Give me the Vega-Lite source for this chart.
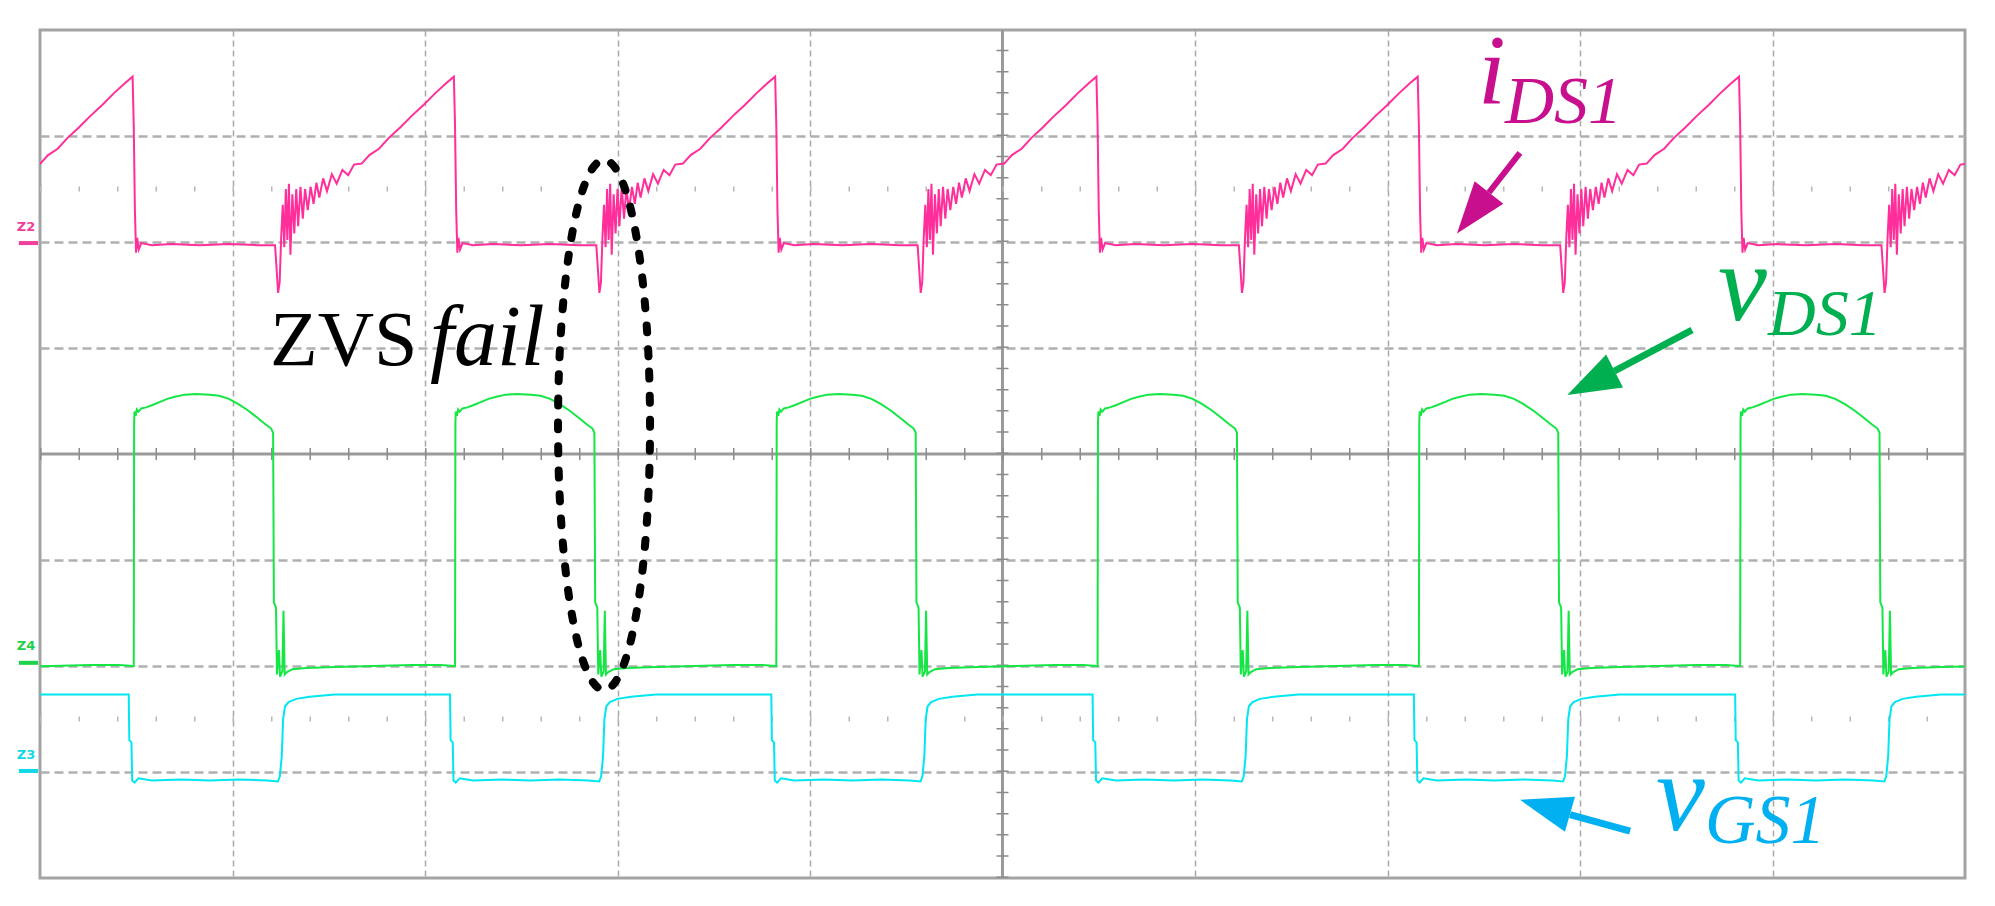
{
"$schema": "https://vega.github.io/schema/vega-lite/v6.json",
"width": 1925, "height": 848,
"autosize": {"type": "none"},
"padding": {"left": 40, "top": 30, "right": 30, "bottom": 28},
"background": "white",
"config": {"view": {"stroke": "#a3a3a3", "strokeWidth": 3}},
"datasets": {
"ids": [
{"x":-0.038,"y":2.73},{"x":0.002,"y":2.74},{"x":0.042,"y":2.82},{"x":0.092,"y":2.88},{"x":0.142,"y":2.98},{"x":0.202,"y":3.08},{"x":0.262,"y":3.19},{"x":0.322,"y":3.29},{"x":0.382,"y":3.40},{"x":0.442,"y":3.50},
{"x":0.481,"y":3.56},{"x":0.487,"y":3.10},{"x":0.493,"y":2.30},{"x":0.499,"y":1.90},{"x":0.505,"y":2.04},{"x":0.513,"y":1.93},{"x":0.526,"y":1.99},{"x":0.581,"y":1.97},{"x":0.681,"y":1.98},{"x":0.831,"y":1.97},{"x":0.981,"y":1.98},{"x":1.131,"y":1.97},{"x":1.221,"y":1.97},{"x":1.229,"y":1.75},{"x":1.237,"y":1.52},{"x":1.245,"y":1.62},{"x":1.253,"y":2.05},{"x":1.261,"y":2.35},{"x":1.269,"y":1.95},{"x":1.277,"y":2.50},{"x":1.285,"y":2.02},{"x":1.293,"y":2.55},{"x":1.301,"y":1.88},{"x":1.311,"y":2.45},{"x":1.321,"y":2.08},{"x":1.331,"y":2.50},{"x":1.341,"y":2.15},{"x":1.353,"y":2.52},{"x":1.365,"y":2.22},{"x":1.377,"y":2.50},{"x":1.391,"y":2.30},{"x":1.406,"y":2.52},{"x":1.421,"y":2.36},{"x":1.436,"y":2.56},{"x":1.451,"y":2.42},{"x":1.471,"y":2.60},{"x":1.491,"y":2.48},{"x":1.516,"y":2.64},{"x":1.541,"y":2.55},{"x":1.571,"y":2.68},{"x":1.601,"y":2.63},{"x":1.631,"y":2.73},{"x":1.671,"y":2.74},{"x":1.711,"y":2.82},{"x":1.761,"y":2.88},{"x":1.811,"y":2.98},{"x":1.871,"y":3.08},{"x":1.931,"y":3.19},{"x":1.991,"y":3.29},{"x":2.051,"y":3.40},{"x":2.111,"y":3.50},
{"x":2.150,"y":3.56},{"x":2.156,"y":3.10},{"x":2.162,"y":2.30},{"x":2.168,"y":1.90},{"x":2.174,"y":2.04},{"x":2.182,"y":1.93},{"x":2.195,"y":1.99},{"x":2.250,"y":1.97},{"x":2.350,"y":1.98},{"x":2.500,"y":1.97},{"x":2.650,"y":1.98},{"x":2.800,"y":1.97},{"x":2.890,"y":1.97},{"x":2.898,"y":1.75},{"x":2.906,"y":1.52},{"x":2.914,"y":1.62},{"x":2.922,"y":2.05},{"x":2.930,"y":2.35},{"x":2.938,"y":1.95},{"x":2.946,"y":2.50},{"x":2.954,"y":2.02},{"x":2.962,"y":2.55},{"x":2.970,"y":1.88},{"x":2.980,"y":2.45},{"x":2.990,"y":2.08},{"x":3.000,"y":2.50},{"x":3.010,"y":2.15},{"x":3.022,"y":2.52},{"x":3.034,"y":2.22},{"x":3.046,"y":2.50},{"x":3.060,"y":2.30},{"x":3.075,"y":2.52},{"x":3.090,"y":2.36},{"x":3.105,"y":2.56},{"x":3.120,"y":2.42},{"x":3.140,"y":2.60},{"x":3.160,"y":2.48},{"x":3.185,"y":2.64},{"x":3.210,"y":2.55},{"x":3.240,"y":2.68},{"x":3.270,"y":2.63},{"x":3.300,"y":2.73},{"x":3.340,"y":2.74},{"x":3.380,"y":2.82},{"x":3.430,"y":2.88},{"x":3.480,"y":2.98},{"x":3.540,"y":3.08},{"x":3.600,"y":3.19},{"x":3.660,"y":3.29},{"x":3.720,"y":3.40},{"x":3.780,"y":3.50},
{"x":3.819,"y":3.56},{"x":3.825,"y":3.10},{"x":3.831,"y":2.30},{"x":3.837,"y":1.90},{"x":3.843,"y":2.04},{"x":3.851,"y":1.93},{"x":3.864,"y":1.99},{"x":3.919,"y":1.97},{"x":4.019,"y":1.98},{"x":4.169,"y":1.97},{"x":4.319,"y":1.98},{"x":4.469,"y":1.97},{"x":4.559,"y":1.97},{"x":4.567,"y":1.75},{"x":4.575,"y":1.52},{"x":4.583,"y":1.62},{"x":4.591,"y":2.05},{"x":4.599,"y":2.35},{"x":4.607,"y":1.95},{"x":4.615,"y":2.50},{"x":4.623,"y":2.02},{"x":4.631,"y":2.55},{"x":4.639,"y":1.88},{"x":4.649,"y":2.45},{"x":4.659,"y":2.08},{"x":4.669,"y":2.50},{"x":4.679,"y":2.15},{"x":4.691,"y":2.52},{"x":4.703,"y":2.22},{"x":4.715,"y":2.50},{"x":4.729,"y":2.30},{"x":4.744,"y":2.52},{"x":4.759,"y":2.36},{"x":4.774,"y":2.56},{"x":4.789,"y":2.42},{"x":4.809,"y":2.60},{"x":4.829,"y":2.48},{"x":4.854,"y":2.64},{"x":4.879,"y":2.55},{"x":4.909,"y":2.68},{"x":4.939,"y":2.63},{"x":4.969,"y":2.73},{"x":5.009,"y":2.74},{"x":5.049,"y":2.82},{"x":5.099,"y":2.88},{"x":5.149,"y":2.98},{"x":5.209,"y":3.08},{"x":5.269,"y":3.19},{"x":5.329,"y":3.29},{"x":5.389,"y":3.40},{"x":5.449,"y":3.50},
{"x":5.488,"y":3.56},{"x":5.494,"y":3.10},{"x":5.500,"y":2.30},{"x":5.506,"y":1.90},{"x":5.512,"y":2.04},{"x":5.520,"y":1.93},{"x":5.533,"y":1.99},{"x":5.588,"y":1.97},{"x":5.688,"y":1.98},{"x":5.838,"y":1.97},{"x":5.988,"y":1.98},{"x":6.138,"y":1.97},{"x":6.228,"y":1.97},{"x":6.236,"y":1.75},{"x":6.244,"y":1.52},{"x":6.252,"y":1.62},{"x":6.260,"y":2.05},{"x":6.268,"y":2.35},{"x":6.276,"y":1.95},{"x":6.284,"y":2.50},{"x":6.292,"y":2.02},{"x":6.300,"y":2.55},{"x":6.308,"y":1.88},{"x":6.318,"y":2.45},{"x":6.328,"y":2.08},{"x":6.338,"y":2.50},{"x":6.348,"y":2.15},{"x":6.360,"y":2.52},{"x":6.372,"y":2.22},{"x":6.384,"y":2.50},{"x":6.398,"y":2.30},{"x":6.413,"y":2.52},{"x":6.428,"y":2.36},{"x":6.443,"y":2.56},{"x":6.458,"y":2.42},{"x":6.478,"y":2.60},{"x":6.498,"y":2.48},{"x":6.523,"y":2.64},{"x":6.548,"y":2.55},{"x":6.578,"y":2.68},{"x":6.608,"y":2.63},{"x":6.638,"y":2.73},{"x":6.678,"y":2.74},{"x":6.718,"y":2.82},{"x":6.768,"y":2.88},{"x":6.818,"y":2.98},{"x":6.878,"y":3.08},{"x":6.938,"y":3.19},{"x":6.998,"y":3.29},{"x":7.058,"y":3.40},{"x":7.118,"y":3.50},
{"x":7.157,"y":3.56},{"x":7.163,"y":3.10},{"x":7.169,"y":2.30},{"x":7.175,"y":1.90},{"x":7.181,"y":2.04},{"x":7.189,"y":1.93},{"x":7.202,"y":1.99},{"x":7.257,"y":1.97},{"x":7.357,"y":1.98},{"x":7.507,"y":1.97},{"x":7.657,"y":1.98},{"x":7.807,"y":1.97},{"x":7.897,"y":1.97},{"x":7.905,"y":1.75},{"x":7.913,"y":1.52},{"x":7.921,"y":1.62},{"x":7.929,"y":2.05},{"x":7.937,"y":2.35},{"x":7.945,"y":1.95},{"x":7.953,"y":2.50},{"x":7.961,"y":2.02},{"x":7.969,"y":2.55},{"x":7.977,"y":1.88},{"x":7.987,"y":2.45},{"x":7.997,"y":2.08},{"x":8.007,"y":2.50},{"x":8.017,"y":2.15},{"x":8.029,"y":2.52},{"x":8.041,"y":2.22},{"x":8.053,"y":2.50},{"x":8.067,"y":2.30},{"x":8.082,"y":2.52},{"x":8.097,"y":2.36},{"x":8.112,"y":2.56},{"x":8.127,"y":2.42},{"x":8.147,"y":2.60},{"x":8.167,"y":2.48},{"x":8.192,"y":2.64},{"x":8.217,"y":2.55},{"x":8.247,"y":2.68},{"x":8.277,"y":2.63},{"x":8.307,"y":2.73},{"x":8.347,"y":2.74},{"x":8.387,"y":2.82},{"x":8.437,"y":2.88},{"x":8.487,"y":2.98},{"x":8.547,"y":3.08},{"x":8.607,"y":3.19},{"x":8.667,"y":3.29},{"x":8.727,"y":3.40},{"x":8.787,"y":3.50},
{"x":8.826,"y":3.56},{"x":8.832,"y":3.10},{"x":8.838,"y":2.30},{"x":8.844,"y":1.90},{"x":8.850,"y":2.04},{"x":8.858,"y":1.93},{"x":8.871,"y":1.99},{"x":8.926,"y":1.97},{"x":9.026,"y":1.98},{"x":9.176,"y":1.97},{"x":9.326,"y":1.98},{"x":9.476,"y":1.97},{"x":9.566,"y":1.97},{"x":9.574,"y":1.75},{"x":9.582,"y":1.52},{"x":9.590,"y":1.62},{"x":9.598,"y":2.05},{"x":9.606,"y":2.35},{"x":9.614,"y":1.95},{"x":9.622,"y":2.50},{"x":9.630,"y":2.02},{"x":9.638,"y":2.55},{"x":9.646,"y":1.88},{"x":9.656,"y":2.45},{"x":9.666,"y":2.08},{"x":9.676,"y":2.50},{"x":9.686,"y":2.15},{"x":9.698,"y":2.52},{"x":9.710,"y":2.22},{"x":9.722,"y":2.50},{"x":9.736,"y":2.30},{"x":9.751,"y":2.52},{"x":9.766,"y":2.36},{"x":9.781,"y":2.56},{"x":9.796,"y":2.42},{"x":9.816,"y":2.60},{"x":9.836,"y":2.48},{"x":9.861,"y":2.64},{"x":9.886,"y":2.55},{"x":9.916,"y":2.68},{"x":9.946,"y":2.63},{"x":9.976,"y":2.73},{"x":10.016,"y":2.74}
],
"vds": [
{"x":-0.138,"y":-2.01},{"x":0.062,"y":-2.00},{"x":0.262,"y":-1.99},{"x":0.412,"y":-1.99},
{"x":0.481,"y":-2.00},{"x":0.487,"y":-2.00},{"x":0.489,"y":0.30},{"x":0.491,"y":0.40},{"x":0.497,"y":0.36},{"x":0.503,"y":0.42},{"x":0.511,"y":0.40},{"x":0.526,"y":0.43},{"x":0.551,"y":0.44},{"x":0.581,"y":0.46},{"x":0.621,"y":0.49},{"x":0.661,"y":0.52},{"x":0.701,"y":0.54},{"x":0.751,"y":0.56},{"x":0.811,"y":0.565},{"x":0.881,"y":0.56},{"x":0.931,"y":0.55},{"x":0.981,"y":0.52},{"x":1.031,"y":0.47},{"x":1.081,"y":0.41},{"x":1.131,"y":0.34},{"x":1.171,"y":0.28},{"x":1.201,"y":0.24},{"x":1.211,"y":0.20},{"x":1.215,"y":-1.40},{"x":1.226,"y":-1.45},{"x":1.231,"y":-2.08},{"x":1.241,"y":-1.85},{"x":1.247,"y":-2.10},{"x":1.259,"y":-2.05},{"x":1.265,"y":-1.48},{"x":1.271,"y":-2.08},{"x":1.281,"y":-2.06},{"x":1.311,"y":-2.03},{"x":1.381,"y":-2.02},{"x":1.531,"y":-2.01},{"x":1.731,"y":-2.00},{"x":1.931,"y":-1.99},{"x":2.081,"y":-1.99},
{"x":2.150,"y":-2.00},{"x":2.156,"y":-2.00},{"x":2.158,"y":0.30},{"x":2.160,"y":0.40},{"x":2.166,"y":0.36},{"x":2.172,"y":0.42},{"x":2.180,"y":0.40},{"x":2.195,"y":0.43},{"x":2.220,"y":0.44},{"x":2.250,"y":0.46},{"x":2.290,"y":0.49},{"x":2.330,"y":0.52},{"x":2.370,"y":0.54},{"x":2.420,"y":0.56},{"x":2.480,"y":0.565},{"x":2.550,"y":0.56},{"x":2.600,"y":0.55},{"x":2.650,"y":0.52},{"x":2.700,"y":0.47},{"x":2.750,"y":0.41},{"x":2.800,"y":0.34},{"x":2.840,"y":0.28},{"x":2.870,"y":0.24},{"x":2.880,"y":0.20},{"x":2.884,"y":-1.40},{"x":2.895,"y":-1.45},{"x":2.900,"y":-2.08},{"x":2.910,"y":-1.85},{"x":2.916,"y":-2.10},{"x":2.928,"y":-2.05},{"x":2.934,"y":-1.48},{"x":2.940,"y":-2.08},{"x":2.950,"y":-2.06},{"x":2.980,"y":-2.03},{"x":3.050,"y":-2.02},{"x":3.200,"y":-2.01},{"x":3.400,"y":-2.00},{"x":3.600,"y":-1.99},{"x":3.750,"y":-1.99},
{"x":3.819,"y":-2.00},{"x":3.825,"y":-2.00},{"x":3.827,"y":0.30},{"x":3.829,"y":0.40},{"x":3.835,"y":0.36},{"x":3.841,"y":0.42},{"x":3.849,"y":0.40},{"x":3.864,"y":0.43},{"x":3.889,"y":0.44},{"x":3.919,"y":0.46},{"x":3.959,"y":0.49},{"x":3.999,"y":0.52},{"x":4.039,"y":0.54},{"x":4.089,"y":0.56},{"x":4.149,"y":0.565},{"x":4.219,"y":0.56},{"x":4.269,"y":0.55},{"x":4.319,"y":0.52},{"x":4.369,"y":0.47},{"x":4.419,"y":0.41},{"x":4.469,"y":0.34},{"x":4.509,"y":0.28},{"x":4.539,"y":0.24},{"x":4.549,"y":0.20},{"x":4.553,"y":-1.40},{"x":4.564,"y":-1.45},{"x":4.569,"y":-2.08},{"x":4.579,"y":-1.85},{"x":4.585,"y":-2.10},{"x":4.597,"y":-2.05},{"x":4.603,"y":-1.48},{"x":4.609,"y":-2.08},{"x":4.619,"y":-2.06},{"x":4.649,"y":-2.03},{"x":4.719,"y":-2.02},{"x":4.869,"y":-2.01},{"x":5.069,"y":-2.00},{"x":5.269,"y":-1.99},{"x":5.419,"y":-1.99},
{"x":5.488,"y":-2.00},{"x":5.494,"y":-2.00},{"x":5.496,"y":0.30},{"x":5.498,"y":0.40},{"x":5.504,"y":0.36},{"x":5.510,"y":0.42},{"x":5.518,"y":0.40},{"x":5.533,"y":0.43},{"x":5.558,"y":0.44},{"x":5.588,"y":0.46},{"x":5.628,"y":0.49},{"x":5.668,"y":0.52},{"x":5.708,"y":0.54},{"x":5.758,"y":0.56},{"x":5.818,"y":0.565},{"x":5.888,"y":0.56},{"x":5.938,"y":0.55},{"x":5.988,"y":0.52},{"x":6.038,"y":0.47},{"x":6.088,"y":0.41},{"x":6.138,"y":0.34},{"x":6.178,"y":0.28},{"x":6.208,"y":0.24},{"x":6.218,"y":0.20},{"x":6.222,"y":-1.40},{"x":6.233,"y":-1.45},{"x":6.238,"y":-2.08},{"x":6.248,"y":-1.85},{"x":6.254,"y":-2.10},{"x":6.266,"y":-2.05},{"x":6.272,"y":-1.48},{"x":6.278,"y":-2.08},{"x":6.288,"y":-2.06},{"x":6.318,"y":-2.03},{"x":6.388,"y":-2.02},{"x":6.538,"y":-2.01},{"x":6.738,"y":-2.00},{"x":6.938,"y":-1.99},{"x":7.088,"y":-1.99},
{"x":7.157,"y":-2.00},{"x":7.163,"y":-2.00},{"x":7.165,"y":0.30},{"x":7.167,"y":0.40},{"x":7.173,"y":0.36},{"x":7.179,"y":0.42},{"x":7.187,"y":0.40},{"x":7.202,"y":0.43},{"x":7.227,"y":0.44},{"x":7.257,"y":0.46},{"x":7.297,"y":0.49},{"x":7.337,"y":0.52},{"x":7.377,"y":0.54},{"x":7.427,"y":0.56},{"x":7.487,"y":0.565},{"x":7.557,"y":0.56},{"x":7.607,"y":0.55},{"x":7.657,"y":0.52},{"x":7.707,"y":0.47},{"x":7.757,"y":0.41},{"x":7.807,"y":0.34},{"x":7.847,"y":0.28},{"x":7.877,"y":0.24},{"x":7.887,"y":0.20},{"x":7.891,"y":-1.40},{"x":7.902,"y":-1.45},{"x":7.907,"y":-2.08},{"x":7.917,"y":-1.85},{"x":7.923,"y":-2.10},{"x":7.935,"y":-2.05},{"x":7.941,"y":-1.48},{"x":7.947,"y":-2.08},{"x":7.957,"y":-2.06},{"x":7.987,"y":-2.03},{"x":8.057,"y":-2.02},{"x":8.207,"y":-2.01},{"x":8.407,"y":-2.00},{"x":8.607,"y":-1.99},{"x":8.757,"y":-1.99},
{"x":8.826,"y":-2.00},{"x":8.832,"y":-2.00},{"x":8.834,"y":0.30},{"x":8.836,"y":0.40},{"x":8.842,"y":0.36},{"x":8.848,"y":0.42},{"x":8.856,"y":0.40},{"x":8.871,"y":0.43},{"x":8.896,"y":0.44},{"x":8.926,"y":0.46},{"x":8.966,"y":0.49},{"x":9.006,"y":0.52},{"x":9.046,"y":0.54},{"x":9.096,"y":0.56},{"x":9.156,"y":0.565},{"x":9.226,"y":0.56},{"x":9.276,"y":0.55},{"x":9.326,"y":0.52},{"x":9.376,"y":0.47},{"x":9.426,"y":0.41},{"x":9.476,"y":0.34},{"x":9.516,"y":0.28},{"x":9.546,"y":0.24},{"x":9.556,"y":0.20},{"x":9.560,"y":-1.40},{"x":9.571,"y":-1.45},{"x":9.576,"y":-2.08},{"x":9.586,"y":-1.85},{"x":9.592,"y":-2.10},{"x":9.604,"y":-2.05},{"x":9.610,"y":-1.48},{"x":9.616,"y":-2.08},{"x":9.626,"y":-2.06},{"x":9.656,"y":-2.03},{"x":9.726,"y":-2.02},{"x":9.876,"y":-2.01},{"x":10.076,"y":-2.00}
],
"vgs": [
{"x":-0.138,"y":-2.27},{"x":0.112,"y":-2.27},{"x":0.312,"y":-2.27},
{"x":0.461,"y":-2.27},{"x":0.464,"y":-2.70},{"x":0.475,"y":-2.72},{"x":0.479,"y":-3.08},{"x":0.491,"y":-3.10},{"x":0.511,"y":-3.06},{"x":0.581,"y":-3.08},{"x":0.731,"y":-3.07},{"x":0.881,"y":-3.08},{"x":1.031,"y":-3.07},{"x":1.181,"y":-3.08},{"x":1.236,"y":-3.09},{"x":1.246,"y":-3.04},{"x":1.256,"y":-2.85},{"x":1.263,"y":-2.50},{"x":1.273,"y":-2.38},{"x":1.291,"y":-2.34},{"x":1.331,"y":-2.31},{"x":1.401,"y":-2.29},{"x":1.531,"y":-2.27},{"x":1.781,"y":-2.27},{"x":1.981,"y":-2.27},
{"x":2.130,"y":-2.27},{"x":2.133,"y":-2.70},{"x":2.144,"y":-2.72},{"x":2.148,"y":-3.08},{"x":2.160,"y":-3.10},{"x":2.180,"y":-3.06},{"x":2.250,"y":-3.08},{"x":2.400,"y":-3.07},{"x":2.550,"y":-3.08},{"x":2.700,"y":-3.07},{"x":2.850,"y":-3.08},{"x":2.905,"y":-3.09},{"x":2.915,"y":-3.04},{"x":2.925,"y":-2.85},{"x":2.932,"y":-2.50},{"x":2.942,"y":-2.38},{"x":2.960,"y":-2.34},{"x":3.000,"y":-2.31},{"x":3.070,"y":-2.29},{"x":3.200,"y":-2.27},{"x":3.450,"y":-2.27},{"x":3.650,"y":-2.27},
{"x":3.799,"y":-2.27},{"x":3.802,"y":-2.70},{"x":3.813,"y":-2.72},{"x":3.817,"y":-3.08},{"x":3.829,"y":-3.10},{"x":3.849,"y":-3.06},{"x":3.919,"y":-3.08},{"x":4.069,"y":-3.07},{"x":4.219,"y":-3.08},{"x":4.369,"y":-3.07},{"x":4.519,"y":-3.08},{"x":4.574,"y":-3.09},{"x":4.584,"y":-3.04},{"x":4.594,"y":-2.85},{"x":4.601,"y":-2.50},{"x":4.611,"y":-2.38},{"x":4.629,"y":-2.34},{"x":4.669,"y":-2.31},{"x":4.739,"y":-2.29},{"x":4.869,"y":-2.27},{"x":5.119,"y":-2.27},{"x":5.319,"y":-2.27},
{"x":5.468,"y":-2.27},{"x":5.471,"y":-2.70},{"x":5.482,"y":-2.72},{"x":5.486,"y":-3.08},{"x":5.498,"y":-3.10},{"x":5.518,"y":-3.06},{"x":5.588,"y":-3.08},{"x":5.738,"y":-3.07},{"x":5.888,"y":-3.08},{"x":6.038,"y":-3.07},{"x":6.188,"y":-3.08},{"x":6.243,"y":-3.09},{"x":6.253,"y":-3.04},{"x":6.263,"y":-2.85},{"x":6.270,"y":-2.50},{"x":6.280,"y":-2.38},{"x":6.298,"y":-2.34},{"x":6.338,"y":-2.31},{"x":6.408,"y":-2.29},{"x":6.538,"y":-2.27},{"x":6.788,"y":-2.27},{"x":6.988,"y":-2.27},
{"x":7.137,"y":-2.27},{"x":7.140,"y":-2.70},{"x":7.151,"y":-2.72},{"x":7.155,"y":-3.08},{"x":7.167,"y":-3.10},{"x":7.187,"y":-3.06},{"x":7.257,"y":-3.08},{"x":7.407,"y":-3.07},{"x":7.557,"y":-3.08},{"x":7.707,"y":-3.07},{"x":7.857,"y":-3.08},{"x":7.912,"y":-3.09},{"x":7.922,"y":-3.04},{"x":7.932,"y":-2.85},{"x":7.939,"y":-2.50},{"x":7.949,"y":-2.38},{"x":7.967,"y":-2.34},{"x":8.007,"y":-2.31},{"x":8.077,"y":-2.29},{"x":8.207,"y":-2.27},{"x":8.457,"y":-2.27},{"x":8.657,"y":-2.27},
{"x":8.806,"y":-2.27},{"x":8.809,"y":-2.70},{"x":8.820,"y":-2.72},{"x":8.824,"y":-3.08},{"x":8.836,"y":-3.10},{"x":8.856,"y":-3.06},{"x":8.926,"y":-3.08},{"x":9.076,"y":-3.07},{"x":9.226,"y":-3.08},{"x":9.376,"y":-3.07},{"x":9.526,"y":-3.08},{"x":9.581,"y":-3.09},{"x":9.591,"y":-3.04},{"x":9.601,"y":-2.85},{"x":9.608,"y":-2.50},{"x":9.618,"y":-2.38},{"x":9.636,"y":-2.34},{"x":9.676,"y":-2.31},{"x":9.746,"y":-2.29},{"x":9.876,"y":-2.27},{"x":10.126,"y":-2.27}
],
"ell": [
{"k":0,"x":3.169,"y":0.274},{"k":1,"x":3.161,"y":0.921},{"k":2,"x":3.137,"y":1.524},{"k":3,"x":3.099,"y":2.042},{"k":4,"x":3.050,"y":2.439},{"k":5,"x":2.992,"y":2.689},{"k":6,"x":2.930,"y":2.774},{"k":7,"x":2.868,"y":2.689},{"k":8,"x":2.810,"y":2.439},{"k":9,"x":2.761,"y":2.042},{"k":10,"x":2.723,"y":1.524},{"k":11,"x":2.699,"y":0.921},{"k":12,"x":2.691,"y":0.274},{"k":13,"x":2.699,"y":-0.373},{"k":14,"x":2.723,"y":-0.976},{"k":15,"x":2.761,"y":-1.494},{"k":16,"x":2.810,"y":-1.891},{"k":17,"x":2.868,"y":-2.141},{"k":18,"x":2.930,"y":-2.226},{"k":19,"x":2.992,"y":-2.141},{"k":20,"x":3.050,"y":-1.891},{"k":21,"x":3.099,"y":-1.494},{"k":22,"x":3.137,"y":-0.976},{"k":23,"x":3.161,"y":-0.373}
],
"ctr": [
{"x":5,"x2":5,"y":-4,"y2":4},{"x":0,"x2":10,"y":0,"y2":0}
],
"ctrh": [
{"x":0,"x2":10,"y":0,"y2":0}
],
"ctrv": [
{"x":5,"x2":5,"y":-4,"y2":4}
],
"dots": [
{"x":0,"x2":10,"y":2.5,"y2":2.5},{"x":0,"x2":10,"y":-2.5,"y2":-2.5}
],
"mk": [
{"x":-0.11,"x2":-0.01,"y":1.99,"y2":1.99,"c":"i"},{"x":-0.11,"x2":-0.01,"y":-1.97,"y2":-1.97,"c":"v"},{"x":-0.11,"x2":-0.01,"y":-2.99,"y2":-2.99,"c":"g"}
],
"mkt": [
{"x":-0.073,"y":2.14,"t":"Z2","c":"i"},{"x":-0.073,"y":-1.81,"t":"Z4","c":"v"},{"x":-0.073,"y":-2.84,"t":"Z3","c":"g"}
]
},
"encoding": {
"x": {"field": "x", "type": "quantitative", "scale": {"domain": [0, 10], "nice": false, "zero": false},
 "axis": {"values": [1,2,3,4,6,7,8,9], "grid": true, "gridDash": [6,4], "gridColor": "#a9a9a9", "gridWidth": 1.5, "labels": false, "ticks": false, "domain": false, "title": null}},
"y": {"field": "y", "type": "quantitative", "scale": {"domain": [-4, 4], "nice": false, "zero": false},
 "axis": {"values": [-3,-2,-1,1,2,3], "grid": true, "gridDash": [9,5], "gridColor": "#b0b0b0", "gridWidth": 2.5, "labels": false, "ticks": false, "domain": false, "title": null}}
},
"layer": [
{"data": {"name": "ctr"}, "mark": {"type": "rule", "color": "#9a9a9a", "strokeWidth": 3}, "encoding": {"x2": {"field": "x2"}, "y2": {"field": "y2"}}},
{"data": {"name": "ctrh"}, "mark": {"type": "rule", "color": "#8c8c8c", "strokeWidth": 12, "strokeDash": [1.5, 37]}, "encoding": {"x2": {"field": "x2"}, "y2": {"field": "y2"}}},
{"data": {"name": "ctrv"}, "mark": {"type": "rule", "color": "#8c8c8c", "strokeWidth": 12, "strokeDash": [1.5, 19.7]}, "encoding": {"x2": {"field": "x2"}, "y2": {"field": "y2"}}},
{"data": {"name": "dots"}, "mark": {"type": "rule", "color": "#b8b8b8", "strokeWidth": 5, "strokeDash": [1.5, 37]}, "encoding": {"x2": {"field": "x2"}, "y2": {"field": "y2"}}},
{"data": {"name": "mk"}, "mark": {"type": "rule", "strokeWidth": 4}, "encoding": {"x2": {"field": "x2"}, "y2": {"field": "y2"}, "color": {"field": "c", "type": "nominal", "scale": {"domain": ["i","v","g"], "range": ["#F0409A","#1BD24A","#10D8E8"]}, "legend": null}}},
{"data": {"name": "mkt"}, "mark": {"type": "text", "font": "DejaVu Sans", "fontSize": 13, "fontWeight": "bold", "align": "center", "baseline": "middle"}, "encoding": {"text": {"field": "t"}, "color": {"field": "c", "type": "nominal", "legend": null}}},
{"data": {"name": "ids"}, "mark": {"type": "line", "color": "#FF2E9A", "strokeWidth": 2, "clip": true}},
{"data": {"name": "vds"}, "mark": {"type": "line", "color": "#14E644", "strokeWidth": 2, "clip": true}},
{"data": {"name": "vgs"}, "mark": {"type": "line", "color": "#00E6F2", "strokeWidth": 2, "clip": true}},
{"data": {"name": "ell"}, "mark": {"type": "line", "color": "#000000", "strokeWidth": 8, "strokeDash": [7, 17], "strokeCap": "round", "interpolate": "cardinal-closed"}, "encoding": {"order": {"field": "k", "type": "quantitative"}}},
{"data": {"values": [{"x": 1.195, "y": 0.84, "t": "ZVS"}]}, "mark": {"type": "text", "font": "Liberation Serif", "fontSize": 78, "align": "left", "baseline": "alphabetic", "color": "#000000"}, "encoding": {"text": {"field": "t"}}},
{"data": {"values": [{"x": 2.026, "y": 0.84, "t": "fail"}]}, "mark": {"type": "text", "font": "Liberation Serif", "fontStyle": "italic", "fontSize": 86, "align": "left", "baseline": "alphabetic", "color": "#000000"}, "encoding": {"text": {"field": "t"}}},
{"data": {"values": [{"x": 7.47, "y": 3.311, "t": "i"}]}, "mark": {"type": "text", "font": "Liberation Serif", "fontStyle": "italic", "fontSize": 100, "align": "left", "baseline": "alphabetic", "color": "#C8108F"}, "encoding": {"text": {"field": "t"}}},
{"data": {"values": [{"x": 7.61, "y": 3.123, "t": "DS1"}]}, "mark": {"type": "text", "font": "Liberation Serif", "fontStyle": "italic", "fontSize": 68, "align": "left", "baseline": "alphabetic", "color": "#C8108F"}, "encoding": {"text": {"field": "t"}}},
{"data": {"values": [{"x": 8.717, "y": 1.264, "t": "v"}]}, "mark": {"type": "text", "font": "Liberation Serif", "fontStyle": "italic", "fontSize": 110, "align": "left", "baseline": "alphabetic", "color": "#00B050"}, "encoding": {"text": {"field": "t"}}},
{"data": {"values": [{"x": 8.977, "y": 1.123, "t": "DS1"}]}, "mark": {"type": "text", "font": "Liberation Serif", "fontStyle": "italic", "fontSize": 66, "align": "left", "baseline": "alphabetic", "color": "#00B050"}, "encoding": {"text": {"field": "t"}}},
{"data": {"values": [{"x": 8.395, "y": -3.547, "t": "v"}]}, "mark": {"type": "text", "font": "Liberation Serif", "fontStyle": "italic", "fontSize": 110, "align": "left", "baseline": "alphabetic", "color": "#00B0F0"}, "encoding": {"text": {"field": "t"}}},
{"data": {"values": [{"x": 8.649, "y": -3.67, "t": "GS1"}]}, "mark": {"type": "text", "font": "Liberation Serif", "fontStyle": "italic", "fontSize": 70, "align": "left", "baseline": "alphabetic", "color": "#00B0F0"}, "encoding": {"text": {"field": "t"}}},
{"data": {"values": [{"x": 7.688, "y": 2.84, "x2": 7.527, "y2": 2.467}]}, "mark": {"type": "rule", "color": "#C8108F", "strokeWidth": 6}, "encoding": {"x2": {"field": "x2"}, "y2": {"field": "y2"}}},
{"data": {"values": [{"x": 7.444, "y": 2.274}]}, "mark": {"type": "point", "shape": "M0,-1L0.7,1L-0.7,1Z", "filled": true, "opacity": 1, "color": "#C8108F", "size": 2704, "angle": 218}},
{"data": {"values": [{"x": 8.582, "y": 1.17, "x2": 8.179, "y2": 0.783}]}, "mark": {"type": "rule", "color": "#00B050", "strokeWidth": 7}, "encoding": {"x2": {"field": "x2"}, "y2": {"field": "y2"}}},
{"data": {"values": [{"x": 8.057, "y": 0.67}]}, "mark": {"type": "point", "shape": "M0,-1L0.7,1L-0.7,1Z", "filled": true, "opacity": 1, "color": "#00B050", "size": 2809, "angle": 243}},
{"data": {"values": [{"x": 8.26, "y": -3.557, "x2": 7.948, "y2": -3.401}]}, "mark": {"type": "rule", "color": "#00B0F0", "strokeWidth": 7}, "encoding": {"x2": {"field": "x2"}, "y2": {"field": "y2"}}},
{"data": {"values": [{"x": 7.818, "y": -3.33}]}, "mark": {"type": "point", "shape": "M0,-1L0.7,1L-0.7,1Z", "filled": true, "opacity": 1, "color": "#00B0F0", "size": 2704, "angle": 286}}
]
}
